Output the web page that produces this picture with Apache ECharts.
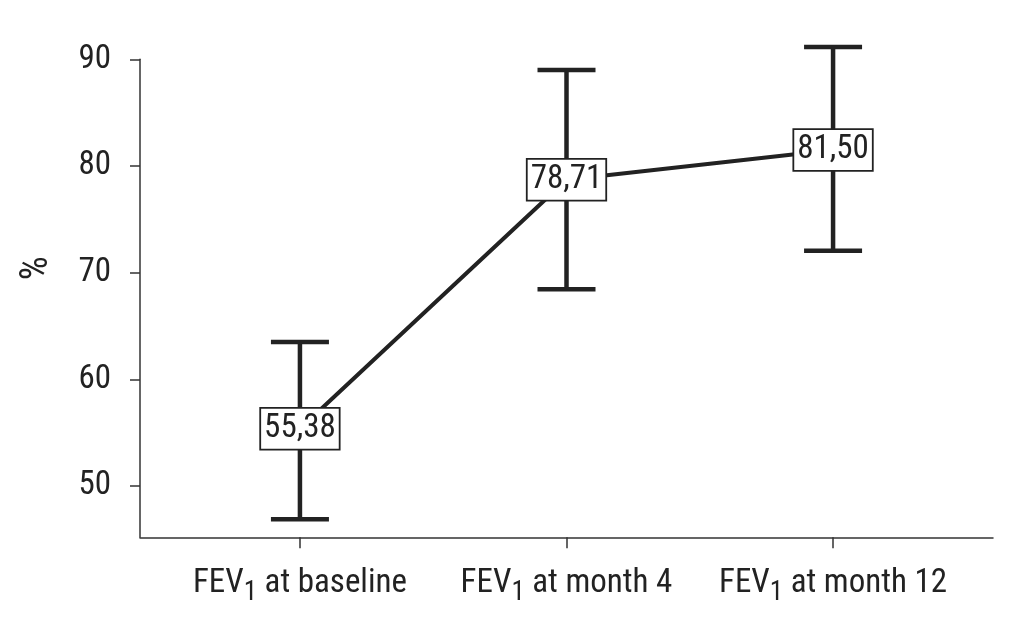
<!DOCTYPE html>
<html>
<head>
<meta charset="utf-8">
<script src="https://cdn.jsdelivr.net/npm/echarts@6/dist/echarts.min.js"></script>
<style>
html,body{margin:0;padding:0;background:#fff;}
#chart{width:1026px;height:630px;}
</style>
</head>
<body>
<div id="chart"></div>
<script>
var categories = ['at baseline', 'at month 4', 'at month 12'];
var means = [55.38, 78.71, 81.50];
var lower = [46.9, 68.45, 72.05];
var upper = [63.5, 89.0, 91.15];
var yTicks = [50, 60, 70, 80, 90];

var FONT = "'Roboto Condensed', 'Liberation Sans Narrow', 'DejaVu Sans Condensed', sans-serif";
var INK = '#222';
var FS = 33;

var chart = echarts.init(document.getElementById('chart'));

var lineData = means.map(function (v, i) { return [i, v]; });
var errData = means.map(function (v, i) { return [i, lower[i], upper[i]]; });

chart.setOption({
  animation: false,
  backgroundColor: '#fff',
  grid: { left: 140, right: 33, top: 59.3, bottom: 92.7, containLabel: false },
  xAxis: {
    type: 'value',
    min: -0.6,
    max: 2.6,
    splitLine: { show: false },
    axisLine: { show: true, onZero: false, lineStyle: { color: '#333', width: 1.5 } },
    axisTick: { show: true, length: 11, customValues: [0, 1, 2], lineStyle: { color: '#333', width: 1.5 } },
    axisLabel: {
      show: true,
      customValues: [0, 1, 2],
      margin: 24,
      formatter: function (v) {
        var i = Math.round(v);
        return 'FEV{sub|1} ' + categories[i];
      },
      color: INK,
      fontFamily: FONT,
      fontSize: FS,
      rich: {
        sub: { fontFamily: FONT, fontSize: 27, color: INK, padding: [18, 0, 0, 0] }
      }
    }
  },
  yAxis: {
    type: 'value',
    min: 45.2,
    max: 90,
    splitLine: { show: false },
    name: '%',
    nameLocation: 'middle',
    nameGap: 84,
    nameRotate: 90,
    nameTextStyle: { color: INK, fontFamily: FONT, fontSize: 38, padding: [0, 0, 0, 60] },
    axisLine: { show: true, onZero: false, lineStyle: { color: '#333', width: 1.5 } },
    axisTick: { show: true, length: 10, customValues: yTicks, lineStyle: { color: '#333', width: 1.5 } },
    axisLabel: {
      show: true,
      customValues: yTicks,
      margin: 29,
      color: INK,
      fontFamily: FONT,
      fontSize: FS
    }
  },
  series: [
    {
      type: 'custom',
      z: 2,
      clip: false,
      data: errData,
      renderItem: function (params, api) {
        var x = api.value(0);
        var lo = api.coord([x, api.value(1)]);
        var hi = api.coord([x, api.value(2)]);
        var half = 29;
        var style = { stroke: INK, lineWidth: 4.5 };
        return {
          type: 'group',
          children: [
            { type: 'line', shape: { x1: lo[0], y1: lo[1], x2: hi[0], y2: hi[1] }, style: style },
            { type: 'line', shape: { x1: hi[0] - half, y1: hi[1], x2: hi[0] + half, y2: hi[1] }, style: style },
            { type: 'line', shape: { x1: lo[0] - half, y1: lo[1], x2: lo[0] + half, y2: lo[1] }, style: style }
          ]
        };
      }
    },
    {
      type: 'line',
      z: 3,
      data: lineData,
      symbol: 'circle',
      symbolSize: 2,
      showSymbol: true,
      itemStyle: { color: 'rgba(0,0,0,0)' },
      lineStyle: { color: INK, width: 4 },
      label: {
        show: true,
        position: 'inside',
        formatter: function (p) { return p.value[1].toFixed(2).replace('.', ','); },
        color: INK,
        fontFamily: FONT,
        fontSize: FS,
        backgroundColor: '#fff',
        borderColor: INK,
        borderWidth: 1.8,
        padding: [4, 3, 3, 3]
      }
    }
  ]
});
</script>
</body>
</html>
